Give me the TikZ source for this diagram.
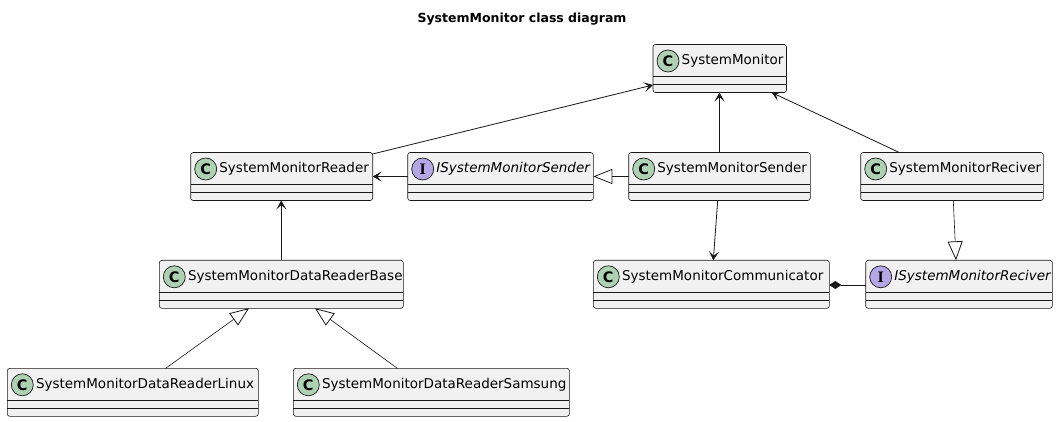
\documentclass[tikz,border=0pt]{standalone}
\usepackage{fontspec}
\setmainfont{DejaVu Sans}
\newfontfamily\iletterfont{Liberation Serif}
\usetikzlibrary{arrows.meta,calc}
\definecolor{boxfill}{HTML}{F1F1F1}
\definecolor{boxline}{HTML}{181818}
\definecolor{cgreen}{HTML}{ADD1B2}
\definecolor{ipurple}{HTML}{B4A7E5}
\tikzset{
  umlbox/.style={draw=boxline, fill=boxfill, line width=0.6pt, rounded corners=2.5pt,
    minimum height=48pt, inner sep=0pt, outer sep=0pt, anchor=north west},
  divider/.style={draw=boxline, line width=0.6pt},
  circC/.style={circle, draw=boxline, fill=cgreen, line width=0.7pt, minimum size=22pt, inner sep=0pt,
    font=\fontsize{14.5}{14.5}\selectfont\bfseries},
  circI/.style={circle, draw=boxline, fill=ipurple, line width=0.7pt, minimum size=22pt, inner sep=0pt,
    font=\fontsize{16}{16}\selectfont\iletterfont\bfseries},
  txtC/.style={anchor=west, inner sep=0pt, font=\fontsize{13.5}{14}\selectfont},
  txtI/.style={anchor=west, inner sep=0pt, font=\fontsize{13.5}{14}\selectfont\itshape},
  assoc/.style={draw=boxline, line width=0.8pt, -{Stealth[length=9pt,width=10pt,inset=4.5pt]}},
  inherit/.style={draw=boxline, line width=0.6pt, -{Triangle[open,length=19pt,width=15pt,line width=0.8pt]}},
  compose/.style={draw=boxline, line width=0.8pt, -{Diamond[length=12pt,width=8pt]}},
  titletext/.style={font=\fontsize{12.5}{13}\selectfont\bfseries, inner sep=0pt}
}
\newcommand{\classbox}[6]{%
  \node[umlbox, minimum width=#4pt] (#1) at (#2,#3) {};
  \draw[divider] ([yshift=-32pt]#1.north west) -- ([yshift=-32pt]#1.north east);
  \draw[divider] ([yshift=-40pt]#1.north west) -- ([yshift=-40pt]#1.north east);
  \node[circ#5] (#1-c) at ([xshift=15pt,yshift=-16.5pt]#1.north west) {#5};
  \node[txt#5] (#1-t) at ([xshift=28.5pt,yshift=-16.5pt]#1.north west) {#6};
}
\begin{document}
\begin{tikzpicture}[x=1pt,y=-1pt]
\useasboundingbox[fill=white] (0,0) rectangle (1058,422);
\node[titletext] (title) at (522,19) {SystemMonitor class diagram};

\classbox{sm}{653}{44.5}{133.5}{C}{SystemMonitor}
\classbox{reader}{190.7}{152.5}{182}{C}{SystemMonitorReader}
\classbox{isender}{407.7}{152.5}{185.6}{I}{ISystemMonitorSender}
\classbox{sender}{628.7}{152.5}{181.6}{C}{SystemMonitorSender}
\classbox{reciver}{860.7}{152.5}{182.6}{C}{SystemMonitorReciver}
\classbox{base}{159.3}{260.3}{244}{C}{SystemMonitorDataReaderBase}
\classbox{comm}{593.3}{260.3}{236}{C}{SystemMonitorCommunicator}
\classbox{ireciver}{865.7}{260.3}{186.6}{I}{ISystemMonitorReciver}
\classbox{linux}{7.3}{368.3}{251}{C}{SystemMonitorDataReaderLinux}
\classbox{samsung}{293.3}{368.3}{276}{C}{SystemMonitorDataReaderSamsung}

% associations
\draw[assoc] ([yshift=-1.5pt]reader.north east) -- ([yshift=7.5pt]sm.south west);
\draw[assoc] (sender.north) -- (sender.north |- sm.south);
\draw[assoc] ([xshift=38.6pt]reciver.north west) -- ([xshift=-14.8pt]sm.south east);
\draw[assoc] (isender.west) -- (reader.east);
\draw[assoc] (base.north) -- (base.north |- reader.south);
\draw[assoc] ([xshift=-1.8pt]sender.south) -- ([xshift=2pt]comm.north);

% inheritance
\draw[inherit] (sender.west) -- (isender.east);
\draw[inherit] ([xshift=1.3pt]reciver.south) -- ([xshift=-3pt]ireciver.north);
\draw[inherit] ([xshift=158.4pt]linux.north west) -- ([xshift=89.7pt]base.south west);
\draw[inherit] ([xshift=104pt]samsung.north west) -- ([xshift=155.7pt]base.south west);

% composition
\draw[compose] ([yshift=-0.7pt]ireciver.west) -- ([yshift=-0.7pt]comm.east);
\end{tikzpicture}
\end{document}
